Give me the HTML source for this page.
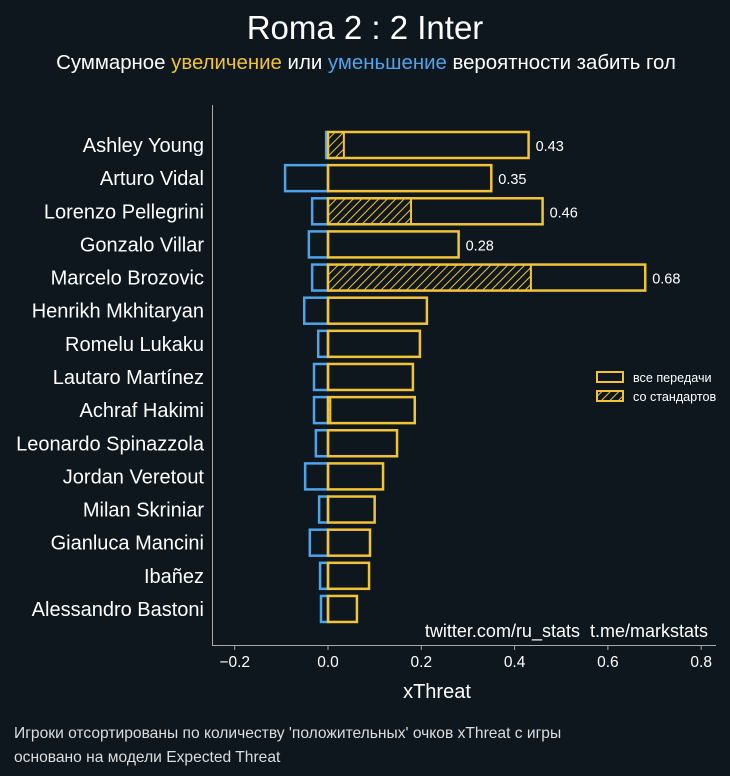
<!DOCTYPE html>
<html><head><meta charset="utf-8"><style>
body{margin:0;background:#0e171e;}
svg{display:block;font-family:"Liberation Sans",sans-serif;}
</style></head><body>
<svg id="c" width="730" height="776">
<defs><pattern id="hatch" patternUnits="userSpaceOnUse" width="6" height="6" patternTransform="rotate(45)"><rect width="6" height="6" fill="#0e171e"/><line x1="0" y1="0" x2="0" y2="6" stroke="#f2c335" stroke-width="2"/></pattern></defs>
<rect width="730" height="776" fill="#0e171e"/>
<text x="365" y="39" text-anchor="middle" fill="#fff" font-size="33">Roma 2 : 2 Inter</text>
<text x="366" y="69" text-anchor="middle" font-size="20.4" fill="#fff">Суммарное <tspan fill="#f2c335">увеличение</tspan> или <tspan fill="#4fa3e8">уменьшение</tspan> вероятности забить гол</text>
<g id="plot"></g>
<line x1="212.5" y1="105" x2="212.5" y2="645" stroke="#aaa" stroke-width="1"/>
<line x1="212" y1="645.5" x2="716" y2="645.5" stroke="#aaa" stroke-width="1"/>
<g id="xt"></g>
<text x="437" y="698" text-anchor="middle" fill="#fff" font-size="20">xThreat</text>
<text x="708" y="637" text-anchor="end" fill="#fff" font-size="18">twitter.com/ru_stats&#160;&#160;t.me/markstats</text>
<g>
<rect x="597" y="372" width="26" height="10" fill="none" stroke="#f2c335" stroke-width="2"/>
<text x="633" y="382" fill="#fff" font-size="12.6">все передачи</text>
<rect x="597" y="391" width="26" height="10" fill="url(#hatch)" stroke="#f2c335" stroke-width="2"/>
<text x="633" y="401" fill="#fff" font-size="12.6">со стандартов</text>
</g>
<text x="14" y="738" fill="#ddd" font-size="15.6">Игроки отсортированы по количеству 'положительных' очков xThreat с игры</text>
<text x="14" y="762" fill="#ddd" font-size="15.6">основано на модели Expected Threat</text>
</svg>
<script>
const players=["Ashley Young","Arturo Vidal","Lorenzo Pellegrini","Gonzalo Villar","Marcelo Brozovic","Henrikh Mkhitaryan","Romelu Lukaku","Lautaro Martínez","Achraf Hakimi","Leonardo Spinazzola","Jordan Veretout","Milan Skriniar","Gianluca Mancini","Ibañez","Alessandro Bastoni"];
const positive=[0.43,0.35,0.46,0.28,0.68,0.212,0.197,0.182,0.186,0.148,0.118,0.10,0.09,0.088,0.062];
const negative=[-0.004,-0.092,-0.034,-0.041,-0.034,-0.051,-0.021,-0.03,-0.03,-0.026,-0.049,-0.019,-0.039,-0.017,-0.015];
const setPieces=[0.034,0,0.178,0,0.435,0,0,0,0.005,0,0,0,0,0,0];
const labels=["0.43","0.35","0.46","0.28","0.68",null,null,null,null,null,null,null,null,null,null];
const xTicks=[-0.2,0,0.2,0.4,0.6,0.8];
const xTickLabels=["−0.2","0.0","0.2","0.4","0.6","0.8"];
const NS="http://www.w3.org/2000/svg";
const X=v=>328+v*466.5;
const Y=i=>145+i*33.14;
const H=26;
const plot=document.getElementById('plot');
function mk(tag,attrs,parent){const e=document.createElementNS(NS,tag);for(const k in attrs)e.setAttribute(k,attrs[k]);parent.appendChild(e);return e;}
players.forEach((p,i)=>{
  const y=Y(i);
  const t=mk('text',{x:204,y:y+7,'text-anchor':'end',fill:'#fff','font-size':20},plot);
  t.textContent=p;
  
  
  const n=mk('rect',{x:X(negative[i]),y:y-H/2,width:X(0)-X(negative[i]),height:H,fill:'none',stroke:'#4fa3e8','stroke-width':2.5},plot);
  
  
  if(setPieces[i]>0){
    const s=mk('rect',{x:X(0),y:y-H/2,width:X(setPieces[i])-X(0),height:H,fill:'url(#hatch)',stroke:'#f2c335','stroke-width':2},plot);
    
    
  }
  const b=mk('rect',{x:X(0),y:y-H/2,width:X(positive[i])-X(0),height:H,fill:'none',stroke:'#f2c335','stroke-width':2.5},plot);
  
  
  if(labels[i]){
    const l=mk('text',{x:X(positive[i])+7,y:y+6,fill:'#fff','font-size':14.5},plot);
    l.textContent=labels[i];
    
    
  }
});
const xt=document.getElementById('xt');
xTicks.forEach((v,i)=>{
  const tk=mk('line',{x1:X(v),x2:X(v),y1:645,y2:650,stroke:'#aaa'},xt);
  
  
  const t=mk('text',{x:X(v),y:667,'text-anchor':'middle',fill:'#fff','font-size':15.5},xt);
  t.textContent=xTickLabels[i];
  
  
});
</script>
</body></html>
